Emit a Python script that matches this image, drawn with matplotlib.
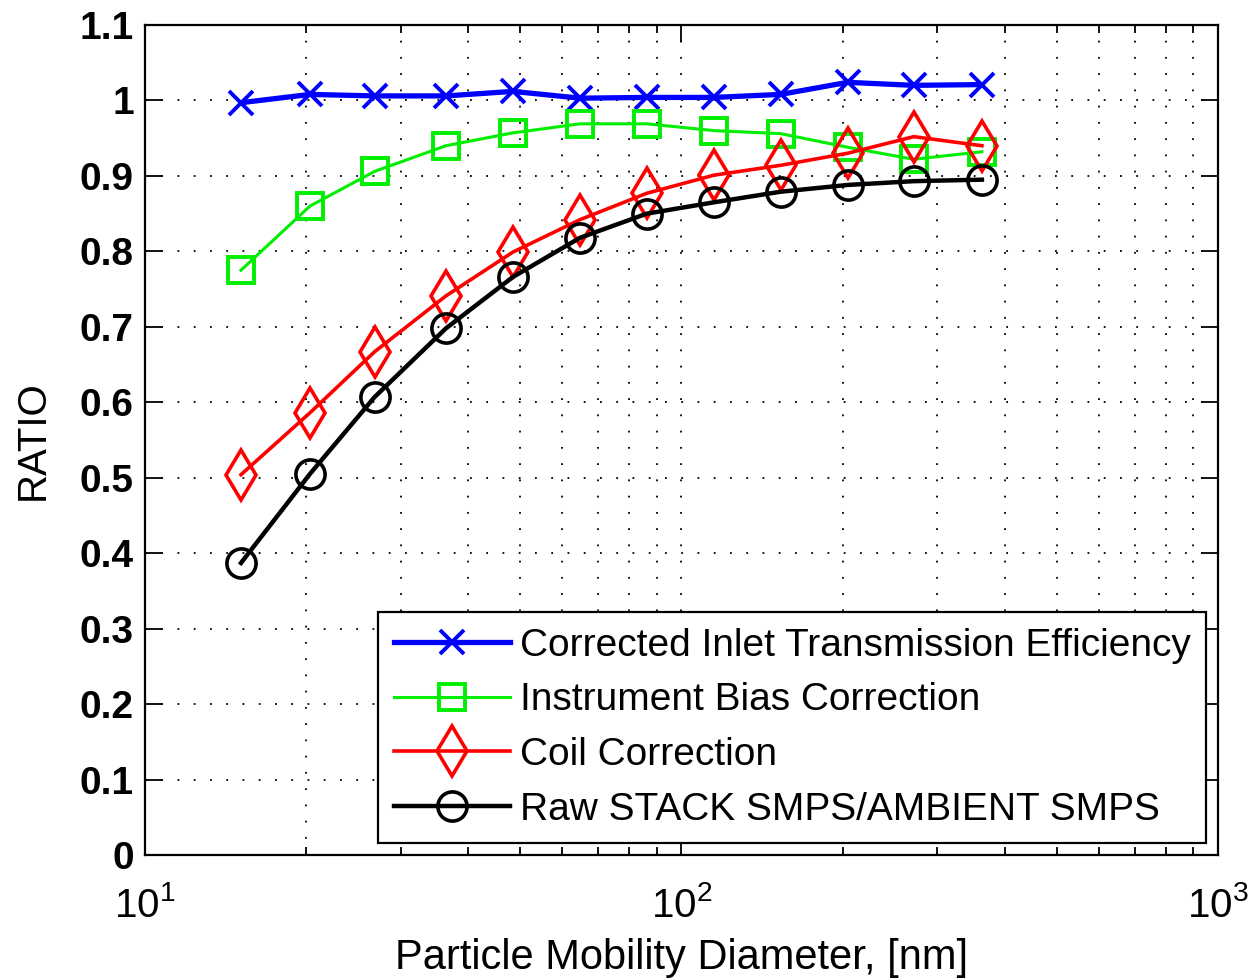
import matplotlib
matplotlib.use("Agg")
import matplotlib.pyplot as plt
import numpy as np
from matplotlib.ticker import LogLocator, NullFormatter, FixedLocator, FuncFormatter

plt.rcParams['font.family'] = ['Liberation Sans', 'DejaVu Sans']
plt.rcParams['mathtext.fontset'] = 'custom'
plt.rcParams['mathtext.rm'] = 'Liberation Sans'

diameter = [15.1, 20.3, 26.8, 36.4, 48.5, 64.7, 86.2, 115, 153, 204, 271, 363]
inlet = [0.997, 1.008, 1.006, 1.006, 1.012, 1.003, 1.004, 1.004, 1.008, 1.024, 1.020, 1.021]
bias = [0.775, 0.860, 0.906, 0.940, 0.957, 0.969, 0.969, 0.960, 0.956, 0.938, 0.922, 0.932]
coil = [0.504, 0.586, 0.667, 0.741, 0.799, 0.842, 0.877, 0.901, 0.914, 0.930, 0.952, 0.940]
raw = [0.387, 0.505, 0.607, 0.698, 0.766, 0.818, 0.850, 0.865, 0.879, 0.888, 0.893, 0.895]

labels = ['Corrected Inlet Transmission Efficiency', 'Instrument Bias Correction',
          'Coil Correction', 'Raw STACK SMPS/AMBIENT SMPS']
yticks = [0, 0.1, 0.2, 0.3, 0.4, 0.5, 0.6, 0.7, 0.8, 0.9, 1.0, 1.1]

fig = plt.figure(figsize=(12.54, 9.8), dpi=100)
ax = fig.add_axes([0.1156, 0.1276, 0.8557, 0.8469])

ax.plot(diameter, inlet, color='#0000ff', lw=3.8, marker='x', ms=17, mew=2.8, label=labels[0])
ax.plot(diameter, bias, color='#00ee00', lw=2.2, marker='s', ms=19, mfc='none', mew=2.8, label=labels[1])
ax.plot(diameter, coil, color='#ff0000', lw=2.6, marker='d', ms=25, mfc='none', mew=2.6, label=labels[2])
ax.plot(diameter, raw, color='black', lw=3.2, marker='o', ms=21, mfc='none', mew=2.6, label=labels[3])

ax.set_xscale('log')
ax.set_xlim(10, 1000)
ax.set_ylim(0, 1.1)
ax.yaxis.set_major_locator(FixedLocator(yticks))
ax.yaxis.set_major_formatter(FuncFormatter(lambda v, p: f'{v:.1f}'.rstrip('0').rstrip('.') if v != 0 else '0'))
ax.xaxis.set_minor_locator(LogLocator(base=10, subs=range(2, 10)))
ax.xaxis.set_minor_formatter(NullFormatter())

ax.grid(True, which='major', color='black', linestyle=(0, (1, 8)), lw=1.3)
ax.grid(True, which='minor', axis='x', color='black', linestyle=(0, (1, 8)), lw=1.3)
ax.tick_params(which='both', direction='in', top=True, right=True, width=1.3)
ax.tick_params(which='major', length=12)
ax.tick_params(which='minor', length=6)
ax.tick_params(axis='x', labelsize=29, pad=22)
ax.tick_params(axis='y', labelsize=28, pad=8)
for lbl in ax.get_yticklabels():
    lbl.set_fontweight('bold')
for s in ax.spines.values():
    s.set_linewidth(1.6)

ax.set_xlabel('Particle Mobility Diameter, [nm]', fontsize=30, labelpad=10)
ax.set_ylabel('RATIO', fontsize=29, labelpad=20)

leg = ax.legend(loc='lower right', fontsize=28, frameon=True, fancybox=False,
                edgecolor='black', framealpha=1, handlelength=3.0, borderpad=0.4,
                labelspacing=0.48, handletextpad=0.25, borderaxespad=0.3)
leg.get_frame().set_linewidth(1.6)

fig.savefig('out.png', dpi=100)
